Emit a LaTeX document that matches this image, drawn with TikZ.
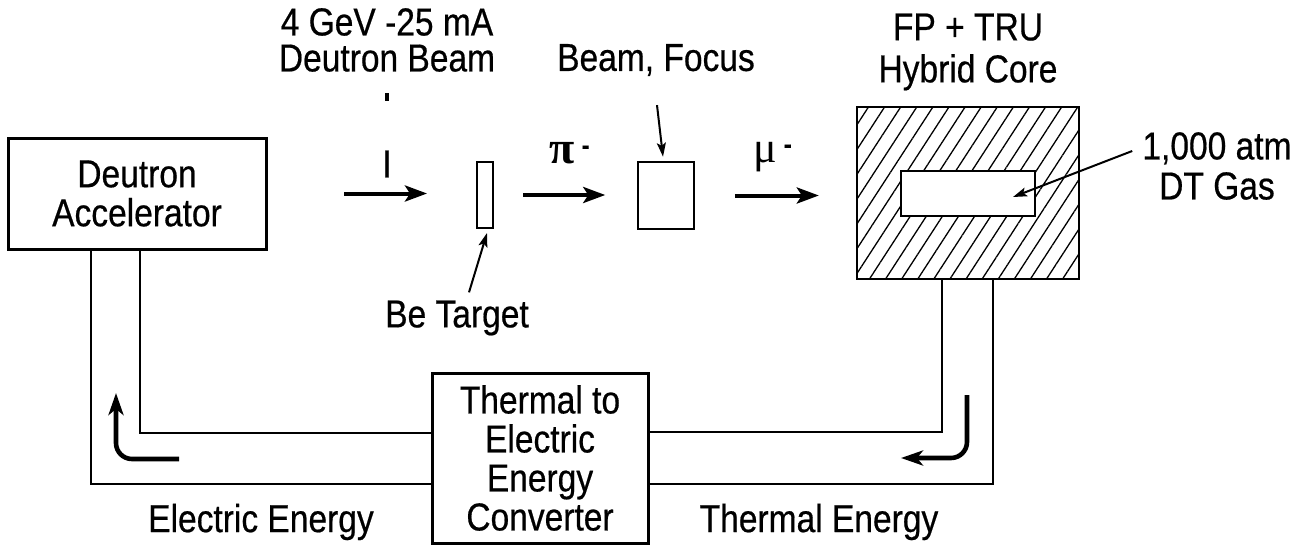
\documentclass[tikz,border=0pt]{standalone}
\usepackage{fontspec}
\setmainfont{Liberation Sans}[FakeStretch=0.86, FakeBold=0.5]
\newfontfamily\greek{Liberation Serif}
\usepackage{tikz}
\usetikzlibrary{arrows.meta}
\usetikzlibrary{patterns.meta}
\usetikzlibrary{positioning}

\begin{document}
\begin{tikzpicture}[
    x=1pt, y=-1pt,
    every node/.style={font=\fontsize{39}{39}\selectfont, align=center, inner sep=0pt},
  pipe/.style={line width=2.8pt},
  beam/.style={-{Stealth[length=22pt, width=16pt, inset=5pt]}, line width=4pt},
  ptr/.style={-{Stealth[length=14pt, width=9pt, inset=3pt]}, line width=2pt},
  flow/.style={-{Stealth[length=22pt, width=15pt, inset=6pt]}, line width=4.6pt, rounded corners=16pt},
  ]
  \useasboundingbox (0,0) rectangle (1310,552);

  \node[draw, line width=3pt, minimum width=258pt, minimum height=111pt] (acc) at (137,193.5) {Deutron\\Accelerator};
  \node[draw, line width=2pt, minimum width=16pt, minimum height=66pt] (tgt) at (485,195) {};
  \node[draw, line width=2.5pt, minimum width=56pt, minimum height=67pt] (foc) at (666,195.5) {};
  \node[draw, line width=2.5pt, minimum width=222pt, minimum height=172pt,
        pattern={Lines[angle=57, distance=13.5pt, line width=1.3pt]}] (core) at (968,193) {};
  \node[draw, fill=white, line width=2pt, minimum width=134pt, minimum height=45pt] (gas) at (968,193.5) {};
  \node[draw, line width=3pt, minimum width=216pt, minimum height=170pt] (conv) at (540,458) {Thermal to\\Electric\\Energy\\Converter};

  \node[font=\fontsize{39}{36}\selectfont] (beamlbl) at (387,40) {4 GeV -25 mA\\Deutron Beam};
  \node (ilbl) at (387,164) {I};
  \node (foclbl) at (656,60) {Beam, Focus};
  \node (tgtlbl) at (457,318) {Be Target};
  \node[font=\fontsize{39}{42}\selectfont] (corelbl) at (968,52) {FP + TRU\\Hybrid Core};
  \node[font=\fontsize{39}{40}\selectfont] (gaslbl) at (1217,166) {1,000 atm\\DT Gas};
  \node (pilbl) at (570,153) {{\greek\bfseries\fontsize{46}{46}\selectfont π}\,\textsuperscript{\bfseries -}};
  \node (mulbl) at (773,157) {{\greek\fontsize{44}{44}\selectfont μ}\,\textsuperscript{\bfseries -}};
  \node (elbl) at (261,522) {Electric Energy};
  \node (tlbl) at (819,522) {Thermal Energy};
  \fill (385,93) rectangle (389,101);

  \draw[beam, shorten <=76.5pt, shorten >=49pt] (acc.east) -- (acc.east -| tgt.west);
  \draw[beam, shorten <=29pt, shorten >=31.5pt] (tgt.east) -- (tgt.east -| foc.west);
  \draw[beam, shorten <=39.5pt, shorten >=37.5pt] (foc.east) -- (foc.east -| core.west);

  \draw[ptr] ([xshift=12pt, yshift=8pt]tgtlbl.north) -- ([xshift=2pt, yshift=-4pt]tgt.south);
  \draw[ptr] ([xshift=1pt, yshift=-29pt]foclbl.south) -- ([xshift=-3pt, yshift=4pt]foc.north);
  \draw[ptr] ([xshift=-10pt, yshift=15pt]gaslbl.west) -- ([xshift=-23pt, yshift=-3.5pt]gas.east);

  \coordinate (eOut) at (91,484);
  \coordinate (eIn) at (140,433);
  \coordinate (tIn) at (942,432);
  \coordinate (tOut) at (993,484);
  \draw[pipe] (acc.south -| eOut) |- (conv.west |- eOut);
  \draw[pipe] (acc.south -| eIn) |- (conv.west |- eIn);
  \draw[pipe] (core.south -| tIn) |- (conv.east |- tIn);
  \draw[pipe] (core.south -| tOut) |- (conv.east |- tOut);

  \coordinate (eFrom) at (179,459);
  \coordinate (eTo) at (116,393);
  \coordinate (tFrom) at (967,395);
  \coordinate (tTo) at (901,458);
  \draw[flow] (eFrom) -| (eTo);
  \draw[flow] (tFrom) |- (tTo);

  \end{tikzpicture}
\end{document}
